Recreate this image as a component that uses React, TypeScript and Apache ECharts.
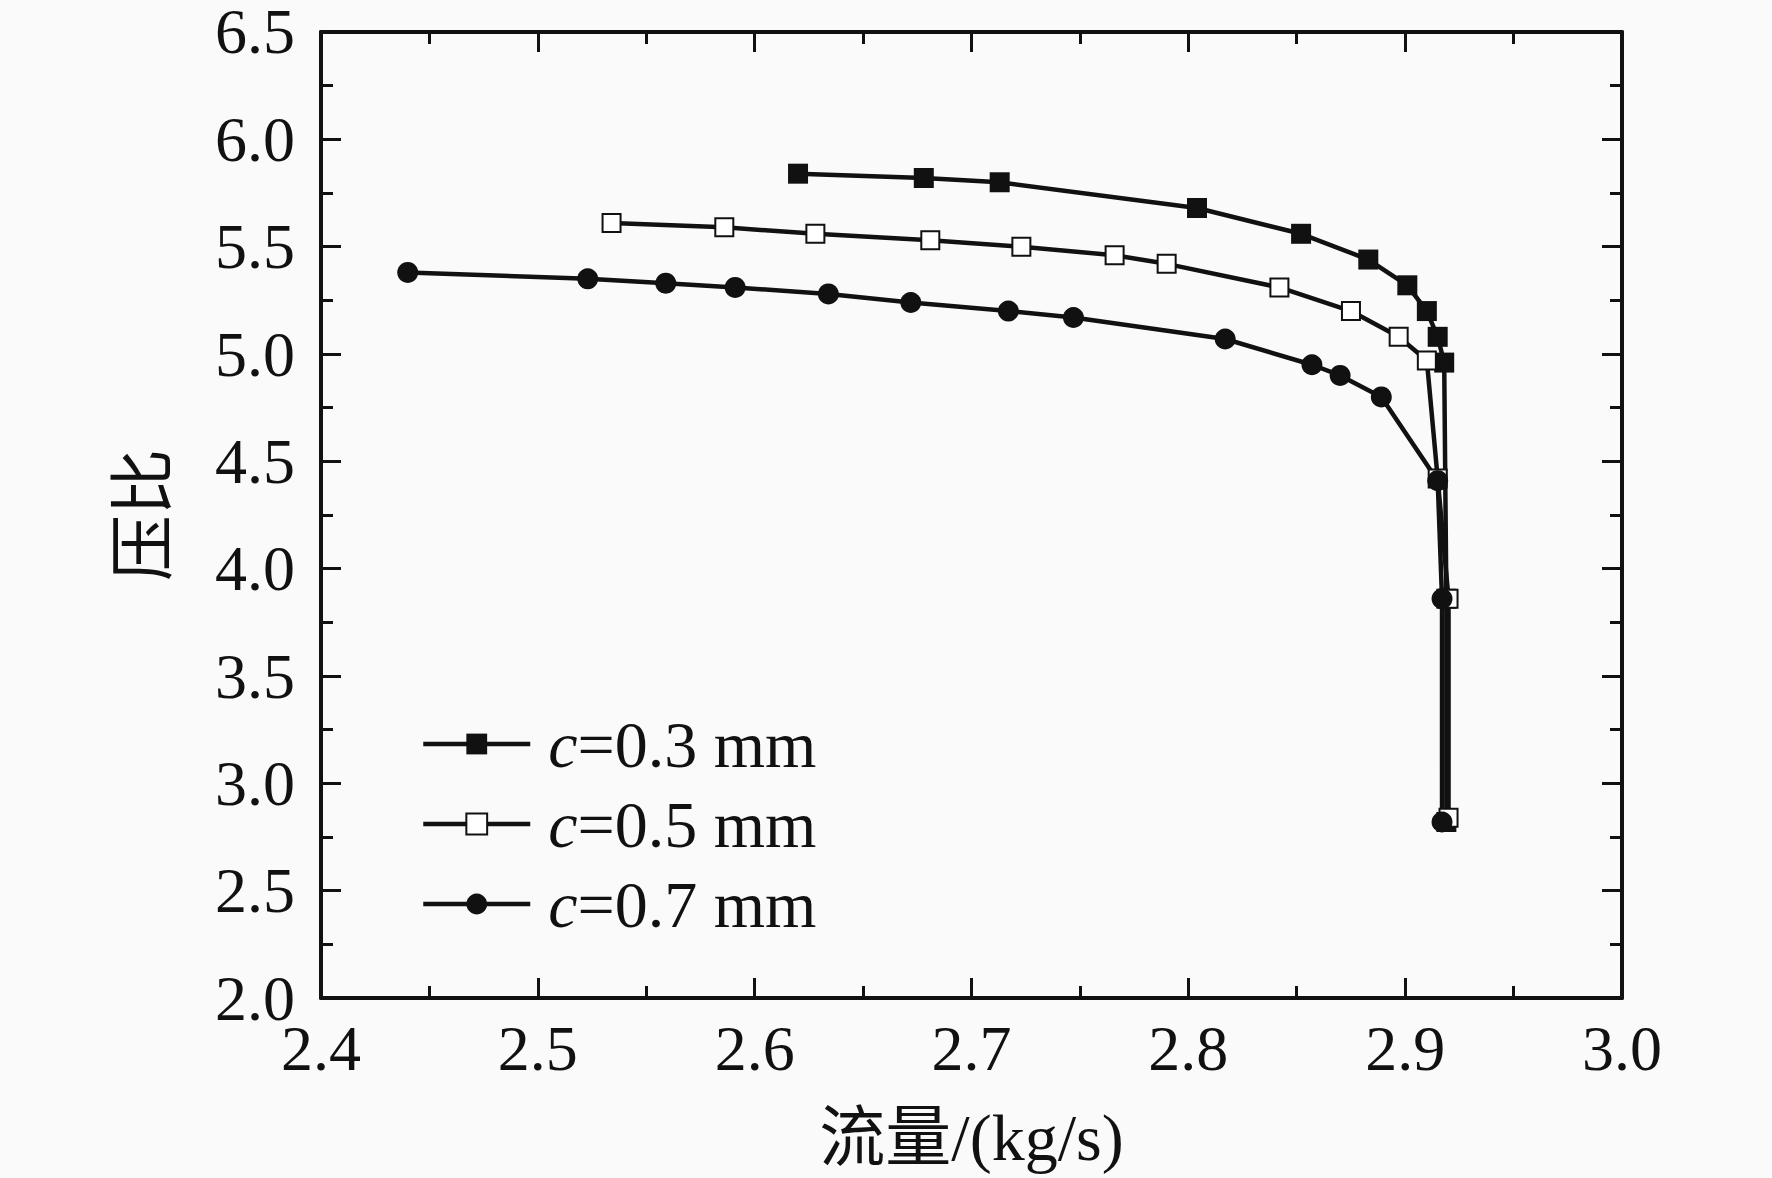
import React, { useEffect, useRef } from "react";
import * as echarts from "echarts";

const seriesNames = ["c=0.3 mm", "c=0.5 mm", "c=0.7 mm"];

const c03x = [2.620, 2.678, 2.713, 2.804, 2.852, 2.883, 2.901, 2.910, 2.915, 2.918, 2.919, 2.919];
const c03y = [5.84, 5.82, 5.80, 5.68, 5.56, 5.44, 5.32, 5.20, 5.08, 4.96, 3.86, 2.82];

const c05x = [2.534, 2.586, 2.628, 2.681, 2.723, 2.766, 2.790, 2.842, 2.875, 2.897, 2.910, 2.915, 2.920, 2.920];
const c05y = [5.61, 5.59, 5.56, 5.53, 5.50, 5.46, 5.42, 5.31, 5.20, 5.08, 4.97, 4.42, 3.86, 2.84];

const c07x = [2.440, 2.523, 2.559, 2.591, 2.634, 2.672, 2.717, 2.747, 2.817, 2.857, 2.870, 2.889, 2.915, 2.917, 2.917];
const c07y = [5.38, 5.35, 5.33, 5.31, 5.28, 5.24, 5.20, 5.17, 5.07, 4.95, 4.90, 4.80, 4.41, 3.86, 2.82];

const xTicks = { min: 2.4, max: 3.0, interval: 0.1 };
const yTicks = { min: 2.0, max: 6.5, interval: 0.5 };

const xName = "流量/(kg/s)";
const yName = "压比";

const FONT = "'Liberation Serif', 'Noto Sans CJK SC', serif";
const INK = "#111";

function zip(xs: number[], ys: number[]) {
  return xs.map((x, i) => [x, ys[i]]);
}

export default function App() {
  const ref = useRef<HTMLDivElement>(null);
  useEffect(() => {
    if (!ref.current) return;
    const chart = echarts.init(ref.current, undefined, { renderer: "svg" });
    const axisCommon = {
      axisLine: { show: true, onZero: false, lineStyle: { color: INK, width: 4 } },
      axisTick: { show: true, inside: true, length: 20, lineStyle: { color: INK, width: 3 } },
      minorTick: { show: true, splitNumber: 2, length: 12, lineStyle: { color: INK, width: 3 } },
      splitLine: { show: false },
    };
    const mirror = {
      ...axisCommon,
      axisLabel: { show: false },
      name: "",
    };
    const lineSeries = (name: string, data: number[][], symbol: string, size: number, fill: string) => ({
      name,
      type: "line",
      data,
      symbol,
      symbolSize: size,
      showSymbol: true,
      lineStyle: { color: INK, width: 4.5 },
      itemStyle: { color: fill, borderColor: INK, borderWidth: fill === "#fff" ? 2 : 0 },
      z: 3,
    });
    chart.setOption({
      animation: false,
      backgroundColor: "#fafafa",
      textStyle: { fontFamily: FONT },
      grid: { left: 321, top: 30, width: 1301, height: 968, containLabel: false },
      legend: {
        left: 421,
        top: 711,
        padding: 0,
        orient: "vertical",
        itemWidth: 107,
        itemHeight: 26,
        itemGap: 14,
        lineStyle: { width: 4.5, color: INK },
        formatter: (n: string) => "{i|c}" + n.slice(1),
        textStyle: {
          fontFamily: FONT,
          fontSize: 66,
          color: INK,
          padding: [0, 0, 0, 13],
          lineHeight: 64,
          rich: {
            i: { fontFamily: FONT, fontSize: 66, fontStyle: "italic", color: INK, lineHeight: 64 },
          },
        },
        data: seriesNames,
      },
      xAxis: [
        {
          type: "value",
          min: xTicks.min,
          max: xTicks.max,
          interval: xTicks.interval,
          ...axisCommon,
          axisLabel: {
            color: INK,
            fontSize: 64,
            fontFamily: FONT,
            margin: 22,
            lineHeight: 56,
            formatter: (v: number) => v.toFixed(1),
          },
          name: xName,
          nameLocation: "middle",
          nameGap: 106,
          nameTextStyle: { fontSize: 66, color: INK, fontFamily: FONT },
        },
        {
          type: "value",
          position: "top",
          min: xTicks.min,
          max: xTicks.max,
          interval: xTicks.interval,
          ...mirror,
        },
      ],
      yAxis: [
        {
          type: "value",
          min: yTicks.min,
          max: yTicks.max,
          interval: yTicks.interval,
          ...axisCommon,
          axisLabel: {
            color: INK,
            fontSize: 64,
            fontFamily: FONT,
            margin: 26,
            lineHeight: 50,
            formatter: (v: number) => v.toFixed(1),
          },
          name: yName,
          nameLocation: "middle",
          nameGap: 145,
          nameTextStyle: { fontSize: 66, color: INK, fontFamily: FONT },
        },
        {
          type: "value",
          position: "right",
          min: yTicks.min,
          max: yTicks.max,
          interval: yTicks.interval,
          ...mirror,
        },
      ],
      series: [
        lineSeries(seriesNames[0], zip(c03x, c03y), "rect", 20, INK),
        lineSeries(seriesNames[1], zip(c05x, c05y), "rect", 18, "#fff"),
        lineSeries(seriesNames[2], zip(c07x, c07y), "circle", 21, INK),
      ],
    });
    return () => chart.dispose();
  }, []);
  return (
    <div
      ref={ref}
      style={{ position: "fixed", left: 0, top: 0, width: 1772, height: 1178 }}
    />
  );
}
